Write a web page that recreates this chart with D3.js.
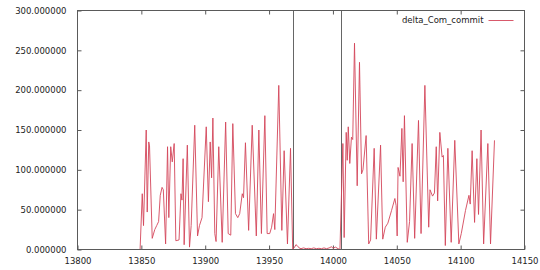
<!DOCTYPE html>
<html>
<head>
    <meta charset='utf-8'>
    <title>delta_Com_commit</title>
    <style type="text/css">
        body { margin: 0; background: #fff; }
        text {
            font-family: "DejaVu Sans", sans-serif;
            font-size: 8.5px;
            fill: #222;
        }
        .frame {
            fill: none;
            stroke: #5a5a5a;
            stroke-width: 1;
        }
        .marker {
            stroke: #666;
            stroke-width: 1;
        }
        .series {
            fill: none;
            stroke: #d4465a;
            stroke-width: 0.9;
            stroke-linejoin: round;
        }
    </style>
</head>
<body>
    <script src="https://cdn.jsdelivr.net/npm/d3@7"></script>

    <div id="svgContainer"></div>

    <script type="text/javascript">

        // values
        const times = [
            13849, 13850.7, 13851.7, 13853.8, 13854.6, 13855.8, 13856.4, 13858.5, 13860.5, 13862,
            13863.5, 13864.8, 13866.2, 13867.2, 13869, 13870.5, 13871.5, 13873, 13874.2, 13875.7,
            13877, 13879.5, 13881, 13881.8, 13882.7, 13883.5, 13886, 13887.7, 13889, 13891.8,
            13894, 13895.5, 13897.5, 13900.8, 13902.5, 13903.9, 13905, 13906, 13907.5, 13908.5,
            13910.6, 13913.3, 13916, 13918, 13920, 13921.6, 13923.7, 13925.5, 13927, 13929,
            13930, 13931.5, 13934, 13936.8, 13940, 13942, 13944, 13946.7, 13948.5, 13950.5,
            13952, 13953.5, 13954.5, 13957.6, 13960, 13961.8, 13964.4, 13966.8, 13968.5,
            13970, 13971, 13972, 13973.5, 13975, 13977, 13979, 13981, 13983, 13985,
            13987, 13989, 13991, 13993, 13995, 13997, 13999, 14000, 14002, 14004, 14005.5,
            14007.8, 14008.8, 14010.4, 14011.2, 14012, 14013.2, 14014.5, 14015.5, 14016.9, 14019,
            14020.8, 14022.4, 14023.5, 14026, 14028, 14029.5, 14032.3, 14034, 14037.3, 14039,
            14041, 14043, 14045.9, 14048.5, 14049.5, 14050.3, 14051, 14052.5, 14054, 14055,
            14056, 14058.2, 14060, 14062, 14064, 14067, 14069, 14072, 14075, 14076,
            14078, 14079.5, 14080.9, 14082, 14083.7, 14085.5, 14086.5, 14088, 14090, 14092.6,
            14095.4, 14098.6, 14100.5, 14103.8, 14106.5, 14107.5, 14109, 14110.9, 14112.7, 14114,
            14116, 14118, 14121.3, 14123.4, 14126.5
        ];
        const commits = [
            0, 70, 30, 150, 47, 135, 130, 14, 25, 30,
            35, 68, 78, 75, 7, 129, 40, 129, 110, 133,
            11, 12, 70, 62, 114, 6, 131, 3, 30, 156,
            17, 30, 40, 154, 60, 135, 90, 165, 20, 10,
            129, 9, 160, 20, 18, 158, 45, 40, 45, 70,
            65, 134, 24, 156, 17, 150, 20, 168, 20, 20,
            28, 45, 25, 206, 24, 124, 7, 127, 0,
            3, 6, 5, 2, 1, 2, 1, 1.5, 1, 2,
            1, 1.5, 1, 2, 1, 2, 3.5, 1.5, 3, 1, 0,
            133, 15, 147, 112, 154, 108, 141, 138, 259, 80,
            235, 95, 100, 143, 7, 12, 127, 13, 131, 13,
            28, 33, 49, 64, 55, 17, 103, 92, 152, 85,
            168, 9, 35, 133, 14, 162, 20, 206, 28, 75,
            67, 71, 129, 61, 147, 116, 118, 5, 127, 9,
            137, 7, 20, 49, 68, 57, 124, 34, 114, 44,
            150, 7, 133, 7, 137
        ];
        const markers = [13968.6, 14006];
        const xTicks = [13800, 13850, 13900, 13950, 14000, 14050, 14100, 14150];
        const yTicks = [0, 50, 100, 150, 200, 250, 300];
        const seriesName = "delta_Com_commit";

        const width = 540;
        const height = 270;
        const margin = {top: 10.5, right: 15.5, bottom: 20.5, left: 77.5};

        const svg = d3.select("#svgContainer").append("svg")
            .attr("width", width)
            .attr("height", height);

        const x = d3.scaleLinear()
            .domain([13800, 14150])
            .range([margin.left, width - margin.right]);

        const y = d3.scaleLinear()
            .domain([0, 300])
            .range([height - margin.bottom, margin.top]);

        const tick = 4;

        // bottom + mirrored top ticks
        svg.append("g")
            .attr("transform", `translate(0,${y(0)})`)
            .call(d3.axisBottom(x).tickValues(xTicks).tickFormat(d3.format("d"))
                .tickSizeInner(-tick).tickSizeOuter(0).tickPadding(8))
            .call(g => g.select(".domain").remove());

        svg.append("g")
            .attr("transform", `translate(0,${y(300)})`)
            .call(d3.axisTop(x).tickValues(xTicks.slice(1, -1)).tickFormat("")
                .tickSizeInner(-tick).tickSizeOuter(0))
            .call(g => g.select(".domain").remove());

        // left + mirrored right ticks
        svg.append("g")
            .attr("transform", `translate(${x(13800)},0)`)
            .call(d3.axisLeft(y).tickValues(yTicks).tickFormat(d3.format(".6f"))
                .tickSizeInner(-tick).tickSizeOuter(0).tickPadding(11))
            .call(g => g.select(".domain").remove());

        svg.append("g")
            .attr("transform", `translate(${x(14150)},0)`)
            .call(d3.axisRight(y).tickValues(yTicks.slice(1, -1)).tickFormat("")
                .tickSizeInner(-tick).tickSizeOuter(0))
            .call(g => g.select(".domain").remove());

        svg.selectAll(".tick line").attr("stroke", "#5a5a5a");
        svg.selectAll(".tick text")
            .attr("fill", "#222")
            .style("font-family", "'DejaVu Sans', sans-serif")
            .style("font-size", "8.5px");

        svg.append("g")
            .selectAll("line")
            .data(markers)
            .join("line")
            .attr("class", "marker")
            .attr("x1", d => Math.round(x(d)) + 0.5)
            .attr("x2", d => Math.round(x(d)) + 0.5)
            .attr("y1", y(0))
            .attr("y2", y(300));

        const points = times.map((t, i) => [t, commits[i]]);

        const line = d3.line()
            .x(d => x(d[0]))
            .y(d => y(d[1]));

        svg.append("path")
            .datum(points)
            .attr("class", "series")
            .attr("d", line);

        svg.append("rect")
            .attr("class", "frame")
            .attr("x", x(13800))
            .attr("y", y(300))
            .attr("width", x(14150) - x(13800))
            .attr("height", y(0) - y(300));

        // legend
        const legend = svg.append("g")
            .attr("transform", `translate(${x(14150)},${y(300) + 9.5})`);

        legend.append("text")
            .attr("x", -41)
            .attr("y", 0)
            .attr("dy", "0.35em")
            .attr("text-anchor", "end")
            .text(seriesName);

        legend.append("line")
            .attr("class", "series")
            .attr("x1", -36)
            .attr("x2", -11)
            .attr("y1", 0.5)
            .attr("y2", 0.5);

    </script>
</body>
</html>
